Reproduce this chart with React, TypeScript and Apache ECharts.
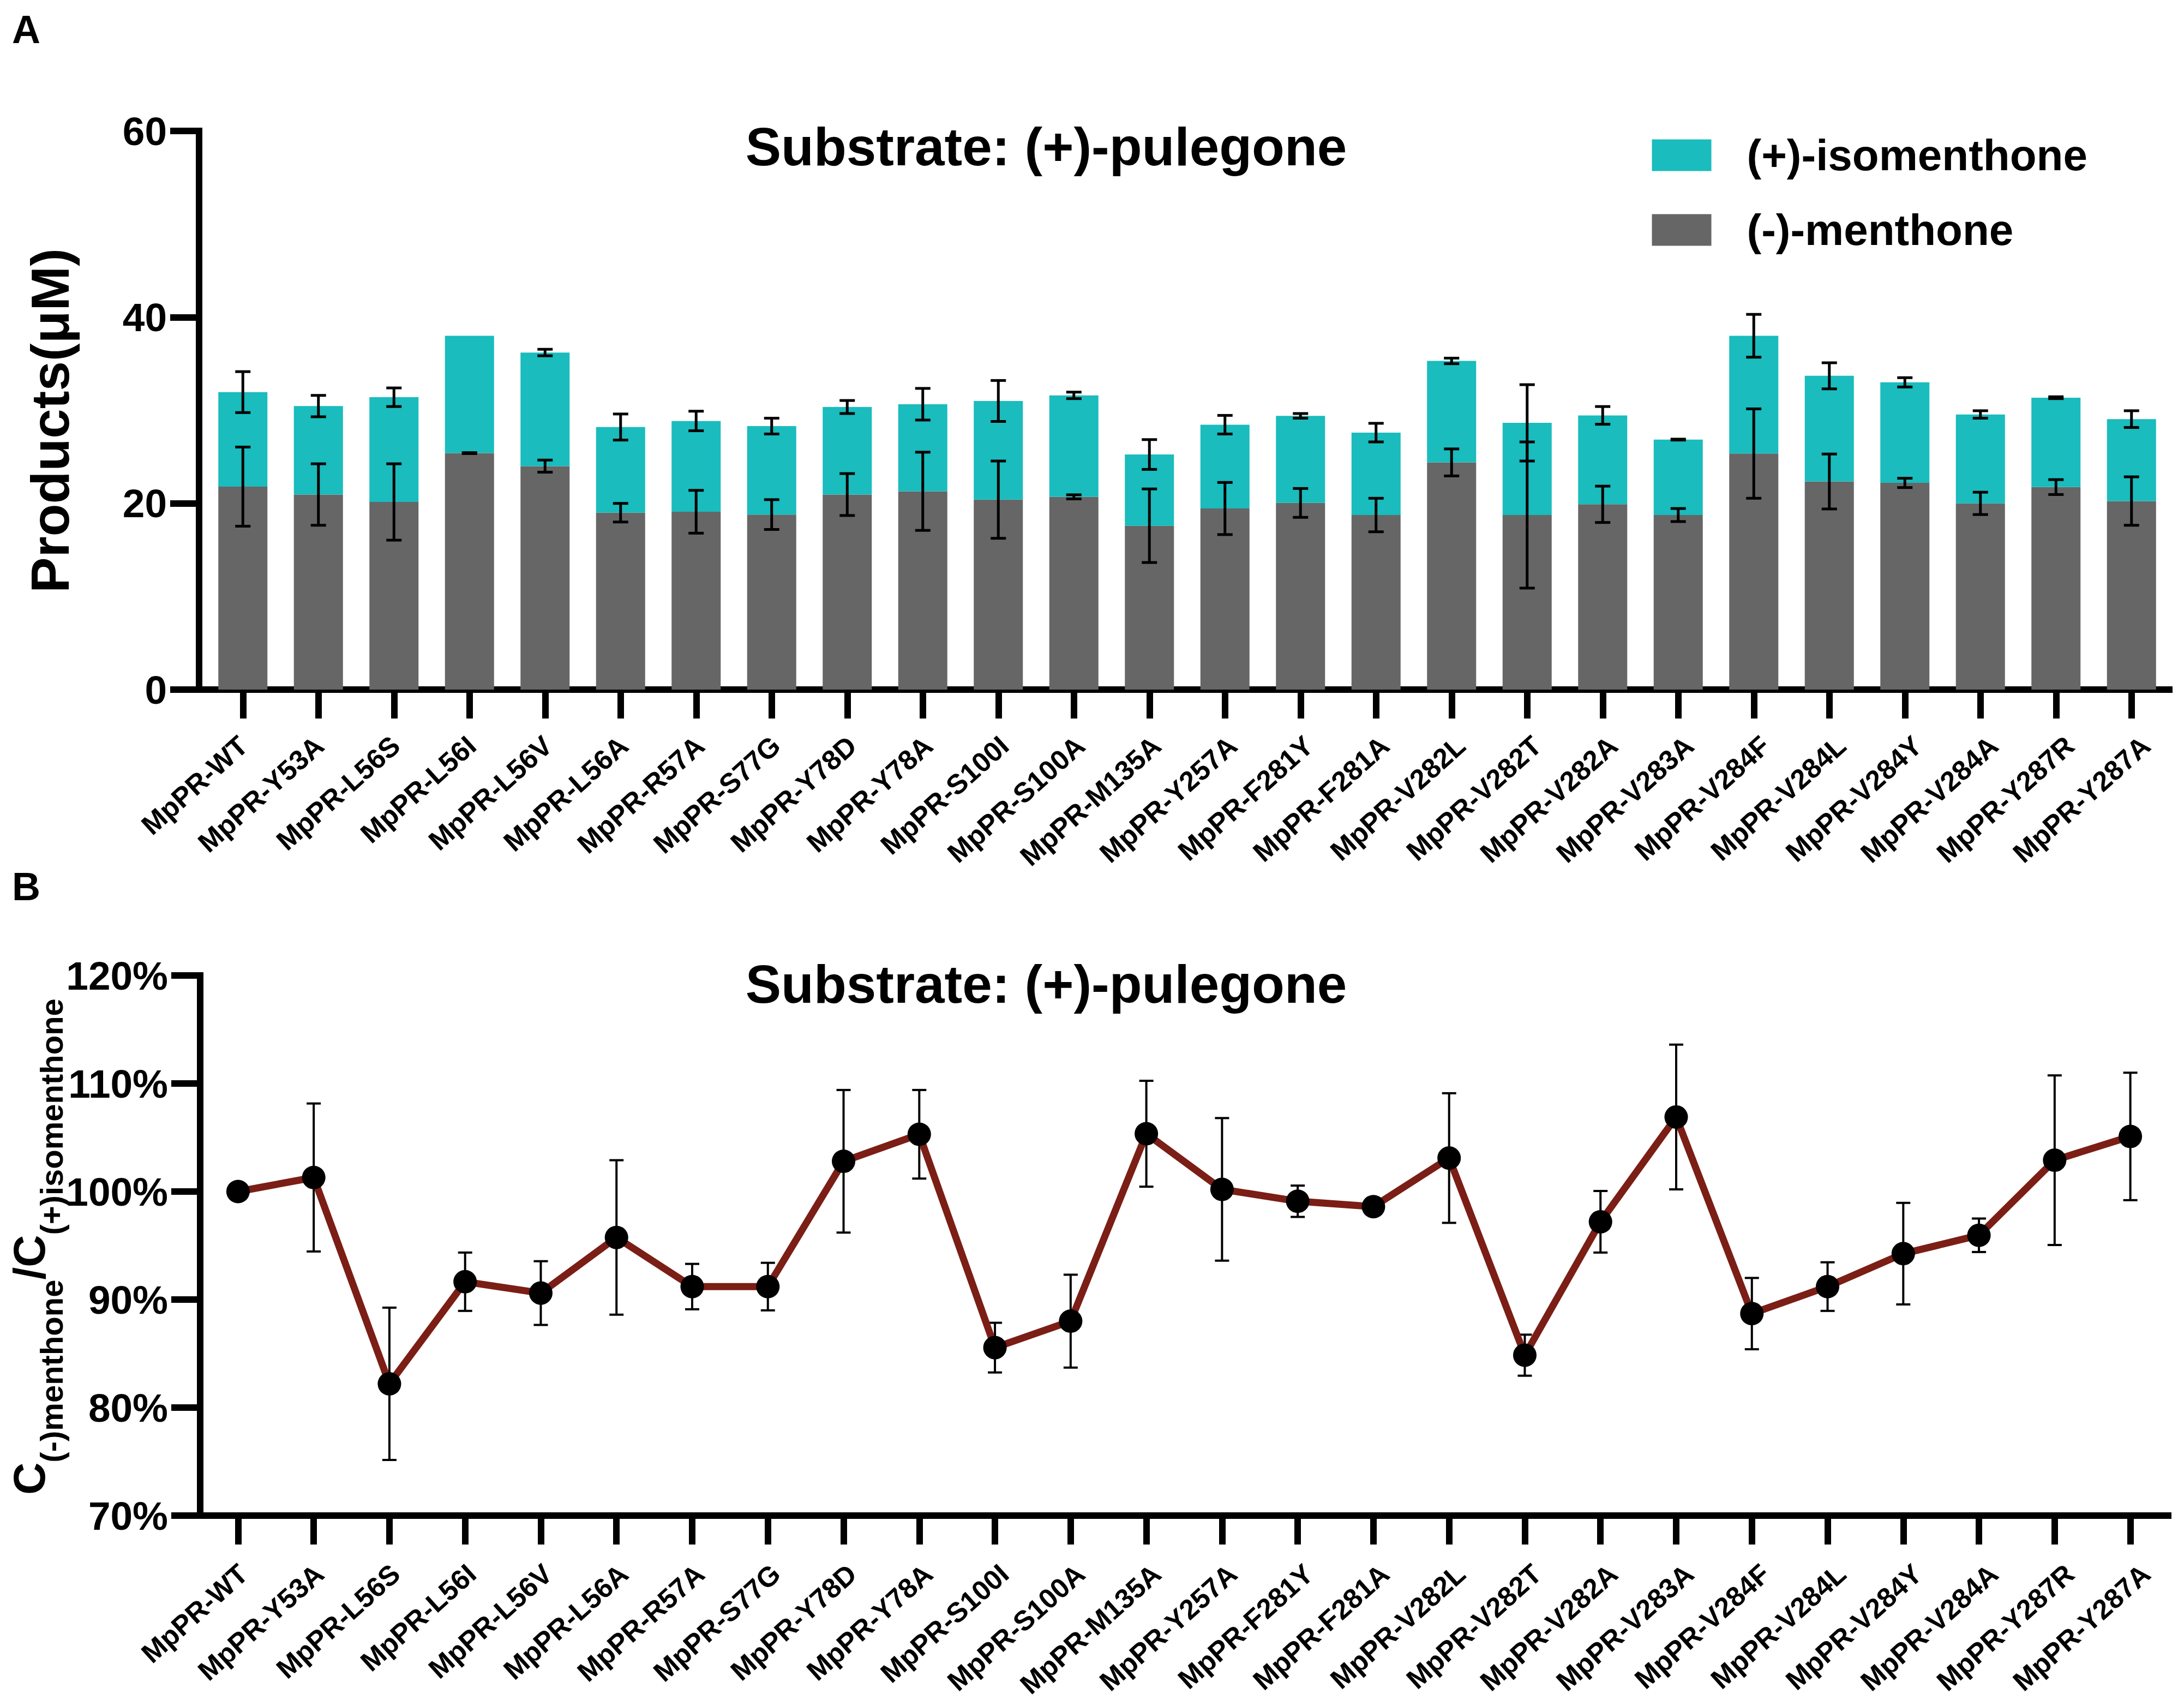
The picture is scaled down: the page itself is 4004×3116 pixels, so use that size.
import React, { useEffect, useRef } from 'react';
import * as echarts from 'echarts';

const categories = [
  'MpPR-WT', 'MpPR-Y53A', 'MpPR-L56S', 'MpPR-L56I', 'MpPR-L56V', 'MpPR-L56A', 'MpPR-R57A',
  'MpPR-S77G', 'MpPR-Y78D', 'MpPR-Y78A', 'MpPR-S100I', 'MpPR-S100A', 'MpPR-M135A', 'MpPR-Y257A',
  'MpPR-F281Y', 'MpPR-F281A', 'MpPR-V282L', 'MpPR-V282T', 'MpPR-V282A', 'MpPR-V283A', 'MpPR-V284F',
  'MpPR-V284L', 'MpPR-V284Y', 'MpPR-V284A', 'MpPR-Y287R', 'MpPR-Y287A',
];

// Panel A: products (µM)
const menthone = [21.8, 20.95, 20.15, 25.4, 24.0, 19.0, 19.1, 18.8, 20.95, 21.3, 20.4, 20.7, 17.6, 19.45, 20.05, 18.75, 24.4, 18.75, 19.9, 18.75, 25.35, 22.35, 22.2, 20.0, 21.75, 20.25];
const menthoneSD = [4.25, 3.3, 4.1, 0.05, 0.65, 1.0, 2.3, 1.6, 2.25, 4.2, 4.15, 0.22, 3.95, 2.8, 1.55, 1.8, 1.45, 7.85, 1.95, 0.7, 4.8, 2.95, 0.5, 1.2, 0.8, 2.6];
const isomenthone = [10.15, 9.5, 11.25, 12.6, 12.2, 9.2, 9.75, 9.5, 9.4, 9.35, 10.6, 10.9, 7.65, 9.0, 9.35, 8.85, 10.9, 9.9, 9.55, 8.1, 12.65, 11.35, 10.8, 9.55, 9.6, 8.8];
const totalSD = [2.2, 1.15, 1.0, 0, 0.35, 1.4, 1.05, 0.85, 0.7, 1.7, 2.2, 0.35, 1.6, 1.0, 0.25, 1.0, 0.3, 4.1, 0.95, 0.05, 2.3, 1.4, 0.5, 0.4, 0.1, 0.9];
const productAxis = { min: 0, max: 60, interval: 20 };

// Panel B: ratio (%)
const ratio = [100.0, 101.3, 82.2, 91.65, 90.6, 95.75, 91.2, 91.2, 102.8, 105.3, 85.55, 88.0, 105.35, 100.2, 99.1, 98.6, 103.1, 84.85, 97.2, 106.9, 88.7, 91.2, 94.25, 95.95, 102.9, 105.1];
const ratioSD = [0, 6.85, 7.05, 2.7, 2.95, 7.15, 2.1, 2.2, 6.6, 4.1, 2.3, 4.3, 4.9, 6.6, 1.45, 0, 6.0, 1.9, 2.85, 6.7, 3.3, 2.25, 4.7, 1.55, 7.85, 5.9];
const ratioAxis = { min: 70, max: 120, interval: 10 };

const titleText = 'Substrate: (+)-pulegone';
const legendNames = ['(+)-isomenthone', '(-)-menthone'];

const FONT = "'Liberation Sans', Arial, Helvetica, sans-serif";
const CYAN = '#1ABCBD';
const GREY = '#666666';
const LINE_RED = '#7B1E16';

function errorBarRender(capHalf: number, lw: number) {
  return (params: any, api: any) => {
    const x = api.value(0);
    const lo = api.value(1);
    const hi = api.value(2);
    if (!(hi > lo)) return null;
    const pLo = api.coord([x, lo]);
    const pHi = api.coord([x, hi]);
    const st = { stroke: '#000', lineWidth: lw };
    return {
      type: 'group',
      children: [
        { type: 'line', shape: { x1: pLo[0], y1: pLo[1], x2: pHi[0], y2: pHi[1] }, style: st },
        { type: 'line', shape: { x1: pHi[0] - capHalf, y1: pHi[1], x2: pHi[0] + capHalf, y2: pHi[1] }, style: st },
        { type: 'line', shape: { x1: pLo[0] - capHalf, y1: pLo[1], x2: pLo[0] + capHalf, y2: pLo[1] }, style: st },
      ],
    };
  };
}

const axisLine = { show: true, lineStyle: { color: '#000', width: 12, cap: 'square' } };
const axisTick = { show: true, length: 53, lineStyle: { color: '#000', width: 12 } };

function mainX(gridIndex: number) {
  return {
    gridIndex,
    type: 'category',
    data: categories,
    axisLine,
    axisTick: { ...axisTick, alignWithLabel: true, interval: 0 },
    axisLabel: { show: false },
    splitLine: { show: false },
  };
}
function labelX(gridIndex: number, margin: number) {
  return {
    gridIndex,
    type: 'category',
    data: categories,
    axisLine: { show: false },
    axisTick: { show: false },
    splitLine: { show: false },
    axisLabel: {
      show: true,
      interval: 0,
      rotate: 42,
      margin,
      fontSize: 51,
      fontWeight: 'bold',
      fontFamily: FONT,
      color: '#000',
    },
  };
}
function valueY(gridIndex: number, ax: any, offset: number, fmt?: string) {
  return {
    gridIndex,
    type: 'value',
    min: ax.min,
    max: ax.max,
    interval: ax.interval,
    offset,
    axisLine,
    axisTick,
    splitLine: { show: false },
    axisLabel: {
      margin: 59,
      fontSize: 73,
      fontWeight: 'bold',
      fontFamily: FONT,
      color: '#000',
      formatter: fmt || '{value}',
    },
  };
}

function textEl(text: string, x: number, y: number, size: number, extra: any = {}) {
  return {
    type: 'text',
    x,
    y,
    silent: true,
    ...extra,
    style: {
      text,
      fill: '#000',
      fontSize: size,
      fontWeight: 'bold',
      fontFamily: FONT,
      align: extra.align || 'left',
      textAlign: extra.align || 'left',
      verticalAlign: 'middle',
      textVerticalAlign: 'middle',
    },
  };
}

export default function App() {
  const ref = useRef<HTMLDivElement>(null);
  useEffect(() => {
    if (!ref.current) return;
    const chart = echarts.init(ref.current, undefined, { renderer: 'svg' });

    const menthoneErr = categories.map((_, i) => [i, menthone[i] - menthoneSD[i], menthone[i] + menthoneSD[i]]);
    const totalErr = categories.map((_, i) => {
      const t = menthone[i] + isomenthone[i];
      return [i, t - totalSD[i], t + totalSD[i]];
    });
    const ratioErr = categories.map((_, i) => [i, ratio[i] - ratioSD[i], ratio[i] + ratioSD[i]]);

    const option: any = {
      animation: false,
      backgroundColor: '#fff',
      grid: [
        { left: 376, top: 240, width: 3601, height: 1024 },
        { left: 376.4, top: 240, width: 3645, height: 1024 },
        { left: 367, top: 1788, width: 3608, height: 990 },
        { left: 376.4, top: 1788, width: 3645, height: 990 },
      ],
      xAxis: [mainX(0), labelX(1, 95), mainX(2), labelX(3, 99)],
      yAxis: [
        valueY(0, productAxis, 11),
        { gridIndex: 1, type: 'value', show: false },
        valueY(2, ratioAxis, 0, '{value}%'),
        { gridIndex: 3, type: 'value', show: false },
      ],
      legend: {
        orient: 'vertical',
        left: 3028.5,
        top: 244.5,
        padding: 0,
        itemWidth: 109,
        itemHeight: 58,
        itemGap: 57,
        icon: 'rect',
        selectedMode: false,
        data: legendNames,
        textStyle: {
          fontSize: 80,
          fontWeight: 'bold',
          fontFamily: FONT,
          color: '#000',
          padding: [0, 0, 0, 60],
        },
      },
      series: [
        {
          name: '(-)-menthone',
          type: 'bar',
          xAxisIndex: 0,
          yAxisIndex: 0,
          stack: 'products',
          barWidth: 90,
          itemStyle: { color: GREY },
          data: menthone,
        },
        {
          name: '(+)-isomenthone',
          type: 'bar',
          xAxisIndex: 0,
          yAxisIndex: 0,
          stack: 'products',
          barWidth: 90,
          itemStyle: { color: CYAN },
          data: isomenthone,
        },
        {
          name: 'menthone-sd',
          type: 'custom',
          xAxisIndex: 0,
          yAxisIndex: 0,
          z: 5,
          renderItem: errorBarRender(14, 5),
          encode: { x: 0, y: [1, 2] },
          data: menthoneErr,
        },
        {
          name: 'total-sd',
          type: 'custom',
          xAxisIndex: 0,
          yAxisIndex: 0,
          z: 5,
          renderItem: errorBarRender(14, 5),
          encode: { x: 0, y: [1, 2] },
          data: totalErr,
        },
        {
          name: 'ratio-sd',
          type: 'custom',
          xAxisIndex: 2,
          yAxisIndex: 2,
          z: 2,
          renderItem: errorBarRender(13, 4),
          encode: { x: 0, y: [1, 2] },
          data: ratioErr,
        },
        {
          name: 'ratio',
          type: 'line',
          xAxisIndex: 2,
          yAxisIndex: 2,
          z: 3,
          symbol: 'circle',
          symbolSize: 43,
          lineStyle: { color: LINE_RED, width: 13 },
          itemStyle: { color: '#000' },
          data: ratio,
        },
      ],
      graphic: [
        textEl('A', 22, 54, 72),
        textEl('B', 22, 1625, 72),
        textEl(titleText, 1918, 269, 98, { align: 'center' }),
        textEl(titleText, 1918, 1804, 98, { align: 'center' }),
        textEl('Products(μM)', 92, 771, 98, { align: 'center', rotation: Math.PI / 2 }),
        {
          type: 'text',
          x: 53.5,
          y: 2285,
          rotation: Math.PI / 2,
          silent: true,
          style: {
            text: '{c|C}{s|(-)menthone}{c|/C}{s|(+)isomenthone}',
            align: 'center',
            textAlign: 'center',
            verticalAlign: 'middle',
            textVerticalAlign: 'middle',
            fill: '#000',
            fontFamily: FONT,
            fontWeight: 'bold',
            fontSize: 82,
            rich: {
              c: { fontSize: 82, fontWeight: 'bold', fontFamily: FONT, fill: '#000', color: '#000', verticalAlign: 'middle' },
              s: { fontSize: 58, fontWeight: 'bold', fontFamily: FONT, fill: '#000', color: '#000', verticalAlign: 'middle', padding: [82, 0, 0, 0] },
            },
          },
        },
      ],
    };
    chart.setOption(option);
    return () => chart.dispose();
  }, []);
  return (
    <div
      ref={ref}
      style={{ position: 'fixed', left: 0, top: 0, width: 4004, height: 3116, background: '#fff' }}
    />
  );
}
